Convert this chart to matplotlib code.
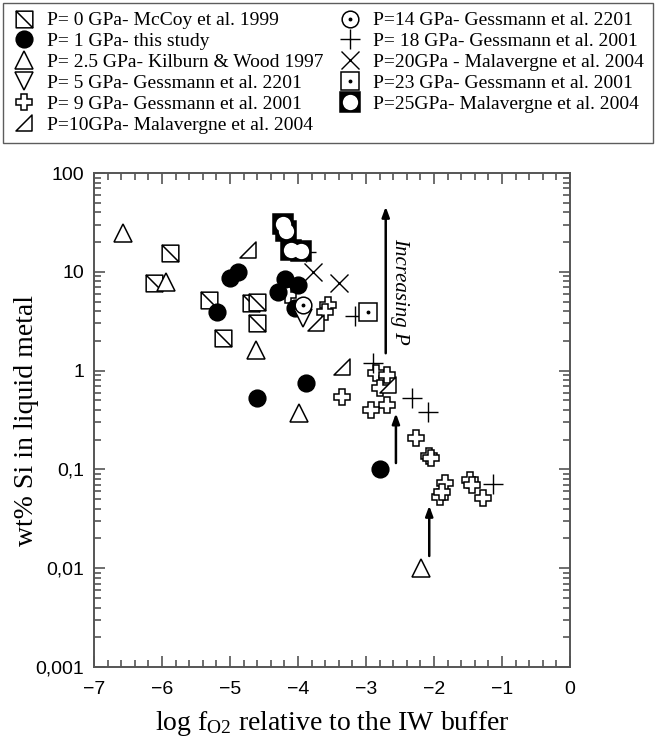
import matplotlib
matplotlib.use('Agg')
import matplotlib.pyplot as plt
import numpy as np
from matplotlib.path import Path
from matplotlib.lines import Line2D
from matplotlib.ticker import FixedLocator, FixedFormatter, MultipleLocator, LogLocator, NullFormatter

# ---- data (log fO2 relative to IW, wt% Si) ----
mccoy_x = [-5.88, -6.12, -5.31, -5.10, -4.69, -4.60, -4.60]
mccoy_y = [15.5, 7.7, 5.2, 2.14, 4.8, 5.0, 3.0]

study_x = [-5.0, -4.88, -5.19, -4.19, -4.29, -4.0, -4.04, -4.60, -3.88, -2.79]
study_y = [8.6, 9.9, 3.9, 8.4, 6.2, 7.3, 4.3, 0.53, 0.75, 0.10]

kw_x = [-6.57, -5.94, -4.62, -3.99, -2.19]
kw_y = [24.7, 7.9, 1.6, 0.37, 0.01]

g5_x = [-3.93]
g5_y = [3.4]

g9_x = [-4.15, -3.56, -3.60, -2.85, -2.69, -2.79, -2.69, -2.93, -3.35,
        -2.26, -2.07, -2.04, -1.84, -1.91, -1.88, -1.47, -1.44, -1.28]
g9_y = [5.8, 4.6, 3.9, 0.95, 0.90, 0.67, 0.45, 0.40, 0.54,
        0.21, 0.137, 0.13, 0.073, 0.053, 0.059, 0.078, 0.070, 0.051]

m10_x = [-4.74, -3.74, -3.35, -2.68]
m10_y = [16.6, 3.0, 1.09, 0.71]

g14_x = [-3.93]
g14_y = [4.6]

g18_x = [-3.88, -3.16, -2.90, -2.32, -2.09, -1.13]
g18_y = [16.0, 3.57, 1.19, 0.53, 0.38, 0.071]

m20_x = [-3.78, -3.40]
m20_y = [9.9, 7.7]

g23_x = [-2.97]
g23_y = [3.9]

m25_x = [-4.22, -4.18, -4.10, -3.96]
m25_y = [30.5, 25.9, 16.6, 16.1]

labels = ['P= 0 GPa- McCoy et al. 1999',
          'P= 1 GPa- this study',
          'P= 2.5 GPa- Kilburn & Wood 1997',
          'P= 5 GPa- Gessmann et al. 2201',
          'P= 9 GPa- Gessmann et al. 2001',
          'P=10GPa- Malavergne et al. 2004',
          'P=14 GPa- Gessmann et al. 2201',
          'P= 18 GPa- Gessmann et al. 2001',
          'P=20GPa - Malavergne et al. 2004',
          'P=23 GPa- Gessmann et al. 2001',
          'P=25GPa- Malavergne et al. 2004']

ytick_vals = [0.001, 0.01, 0.1, 1, 10, 100]
ytick_labels = ['0,001', '0,01', '0,1', '1', '10', '100']
xtick_vals = [-7, -6, -5, -4, -3, -2, -1, 0]

serif = 'Liberation Serif'
sans = 'Liberation Sans'
plt.rcParams['mathtext.fontset'] = 'custom'
plt.rcParams['mathtext.rm'] = serif
plt.rcParams['mathtext.it'] = serif + ':italic'

# custom markers
sq_diag = Path([(-1, -1), (1, -1), (1, 1), (-1, 1), (-1, -1), (-1, 1), (1, -1)],
               [Path.MOVETO, Path.LINETO, Path.LINETO, Path.LINETO, Path.CLOSEPOLY,
                Path.MOVETO, Path.LINETO])
right_tri = Path([(-1, -1), (1, -1), (1, 1), (-1, -1)],
                 [Path.MOVETO, Path.LINETO, Path.LINETO, Path.CLOSEPOLY])

fig = plt.figure(figsize=(6.56, 7.52), dpi=100)
ax = fig.add_axes([0.1433, 0.1130, 0.7256, 0.6569])

mew = 1.1
st = {
    'mccoy': dict(marker=sq_diag, ms=12, mfc='white', mec='black', mew=mew, ls='none'),
    'study': dict(marker='o', ms=12, mfc='black', mec='black', mew=mew, ls='none'),
    'kw': dict(marker='^', ms=13, mfc='white', mec='black', mew=mew, ls='none'),
    'g5': dict(marker='v', ms=13, mfc='white', mec='black', mew=mew, ls='none'),
    'g9': dict(marker='P', ms=12, mfc='white', mec='black', mew=mew, ls='none'),
    'm10': dict(marker=right_tri, ms=12, mfc='white', mec='black', mew=mew, ls='none'),
    'g14': dict(marker='o', ms=12, mfc='white', mec='black', mew=mew, ls='none'),
    'g18': dict(marker='+', ms=14, mec='black', mew=1.0, ls='none'),
    'm20': dict(marker='x', ms=13, mec='black', mew=1.0, ls='none'),
    'g23': dict(marker='s', ms=13, mfc='white', mec='black', mew=mew, ls='none'),
    'm25': dict(marker='s', ms=14, mfc='black', mec='black', mew=mew, ls='none'),
}
dot = dict(marker='o', ms=1.8, mfc='black', mec='black', ls='none')
hole = dict(marker='o', ms=11, mfc='white', mec='white', mew=0, ls='none')

ax.plot(mccoy_x, mccoy_y, **st['mccoy'])
ax.plot(kw_x, kw_y, **st['kw'])
ax.plot(g9_x, g9_y, **st['g9'])
ax.plot(m10_x, m10_y, **st['m10'])
ax.plot(g18_x, g18_y, **st['g18'])
ax.plot(m20_x, m20_y, **st['m20'])
ax.plot(g23_x, g23_y, **st['g23'])
ax.plot(g23_x, g23_y, **dot)
ax.plot(m25_x, m25_y, **st['m25'])
ax.plot(m25_x, m25_y, **hole)
ax.plot(study_x, study_y, **st['study'])
ax.plot(g5_x, g5_y, **st['g5'])
ax.plot(g14_x, g14_y, **st['g14'])
ax.plot(g14_x, g14_y, **dot)

# arrows
arw = dict(arrowstyle='-|>,head_length=0.6,head_width=0.22', color='black', lw=1.8, shrinkA=0, shrinkB=0)
ax.annotate('', xy=(-2.71, 45.7), xytext=(-2.71, 1.5), arrowprops=arw)
ax.annotate('', xy=(-2.56, 0.37), xytext=(-2.56, 0.116), arrowprops=arw)
ax.annotate('', xy=(-2.07, 0.043), xytext=(-2.07, 0.0133), arrowprops=arw)
ax.text(-2.5, 6.4, 'Increasing P', rotation=-90, family=serif, style='italic',
        fontsize=15, ha='center', va='center')

ax.set_xlim(-7, 0)
ax.set_yscale('log')
ax.set_ylim(0.001, 100)
ax.yaxis.set_major_locator(FixedLocator(ytick_vals))
ax.yaxis.set_major_formatter(FixedFormatter(ytick_labels))
ax.yaxis.set_minor_locator(LogLocator(base=10, subs=np.arange(2, 10)))
ax.yaxis.set_minor_formatter(NullFormatter())
ax.xaxis.set_major_locator(FixedLocator(xtick_vals))
ax.xaxis.set_minor_locator(MultipleLocator(0.2))

spine_col = '#555555'
for s in ax.spines.values():
    s.set_color(spine_col)
    s.set_linewidth(1.4)
ax.tick_params(which='both', direction='in', top=True, right=True, colors=spine_col,
               labelcolor='black', width=1.2)
ax.tick_params(which='major', length=8, labelsize=14, pad=7)
ax.tick_params(axis='x', which='major', pad=10)
ax.tick_params(which='minor', length=5)
for lab in ax.get_xticklabels() + ax.get_yticklabels():
    lab.set_family(sans)

ax.set_xlabel(r'log f$_{\mathrm{O2}}$ relative to the IW buffer', family=serif, fontsize=20, labelpad=8)
ax.set_ylabel('wt% Si in liquid metal', family=serif, fontsize=20)
ax.yaxis.set_label_coords(-0.115, 0.5)

# legend
handles = [
    Line2D([], [], **st['mccoy']),
    Line2D([], [], **st['study']),
    Line2D([], [], **st['kw']),
    Line2D([], [], **st['g5']),
    Line2D([], [], **st['g9']),
    Line2D([], [], **st['m10']),
    (Line2D([], [], **st['g14']), Line2D([], [], **dot)),
    Line2D([], [], **st['g18']),
    Line2D([], [], **st['m20']),
    (Line2D([], [], **st['g23']), Line2D([], [], **dot)),
    (Line2D([], [], **st['m25']), Line2D([], [], **hole)),
]
leg = fig.legend(handles, labels, ncol=2, loc='upper left',
                 bbox_to_anchor=(0.005, 0.8, 0.99, 0.196), mode='expand',
                 borderaxespad=0, frameon=True, fancybox=False, edgecolor='#333333',
                 prop={'family': serif, 'size': 14}, labelspacing=0.17, handlelength=1.2,
                 handletextpad=0.6, columnspacing=0.4, borderpad=0.45)
leg.get_frame().set_linewidth(1.0)

fig.savefig('out.png', dpi=100)
